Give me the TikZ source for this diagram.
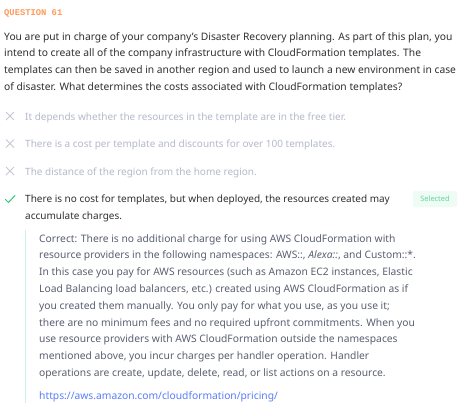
\documentclass[tikz,border=0pt]{standalone}
\usepackage{fontspec}
\setmainfont{Noto Sans}
\newfontfamily\qmono{Liberation Mono}
\definecolor{qorange}{HTML}{FF9A5A}
\definecolor{qtext}{HTML}{2E3033}
\definecolor{qwrong}{HTML}{B4BACB}
\definecolor{qxicon}{HTML}{C3C8D4}
\definecolor{qgreen}{HTML}{34C77B}
\definecolor{qbadgebg}{HTML}{EEFCF5}
\definecolor{qbadgetx}{HTML}{5CD69A}
\definecolor{qexpl}{HTML}{5B6070}
\definecolor{qbar}{HTML}{C9F1E4}
\definecolor{qlink}{HTML}{5A7DF7}
\begin{document}
\begin{tikzpicture}[x=1pt,y=1pt,
  para/.style={anchor=base west,inner sep=0pt,align=left,font=\fontsize{10}{16.8}\selectfont},
  bigpara/.style={para,font=\fontsize{10.28}{16.8}\selectfont},
  wrongopt/.style={para,text=qwrong},
  xicon/.style={draw=qxicon,line width=0.9pt},
]
\useasboundingbox (0,0) rectangle (470,-415);
\fill[white] (0,0) rectangle (470,-415);
% header (base anchor = baseline of last line)
\node[anchor=base west,inner sep=0pt,text=qorange,font=\qmono\bfseries\fontsize{8.8}{10}\selectfont] (qh) at (4,-16) {QUESTION 61};
% question
\node[bigpara,text=qtext] (q) at (4,-90.4) {You are put in charge of your company's Disaster Recovery planning. As part of this plan, you\\intend to create all of the company infrastructure with CloudFormation templates. The\\templates can then be saved in another region and used to launch a new environment in case\\of disaster. What determines the costs associated with CloudFormation templates?};
% options
\node[wrongopt] (o1) at (25,-120) {It depends whether the resources in the template are in the free tier.};
\node[wrongopt] (o2) at (25,-147.5) {There is a cost per template and discounts for over 100 templates.};
\node[wrongopt] (o3) at (25,-175) {The distance of the region from the home region.};
\node[para,text=qtext] (o4) at (25,-219.5) {There is no cost for templates, but when deployed, the resources created may\\accumulate charges.};
\foreach \yy/\nm in {116/x1,143.5/x2,171/x3}{
  \coordinate (\nm a) at (6,-\yy+4);
  \coordinate (\nm b) at (14,-\yy-4);
  \coordinate (\nm c) at (6,-\yy-4);
  \coordinate (\nm d) at (14,-\yy+4);
  \draw[xicon] (\nm a) -- (\nm b);
  \draw[xicon] (\nm c) -- (\nm d);
}
\coordinate (ca) at (5.5,-199.5);
\coordinate (cb) at (8.5,-202.5);
\coordinate (cc) at (15,-195.5);
\draw[qgreen,line width=1pt,line cap=round,line join=round] (ca) -- (cb) -- (cc);
% badge
\node[fill=qbadgebg,rounded corners=2pt,minimum width=44pt,minimum height=16pt,inner sep=0pt,text=qbadgetx,font=\fontsize{7.4}{8}\selectfont] (badge) at (435,-199) {Selected};
% explanation bar
\coordinate (bt) at (25.5,-230);
\coordinate (bb) at (25.5,-403);
\draw[qbar,line width=1.5pt] (bt) -- (bb);
\node[bigpara,text=qexpl] (ex) at (39,-376.4) {Correct: There is no additional charge for using AWS CloudFormation with\\resource providers in the following namespaces: AWS::, \textit{Alexa::}, and Custom::*.\\In this case you pay for AWS resources (such as Amazon EC2 instances, Elastic\\Load Balancing load balancers, etc.) created using AWS CloudFormation as if\\you created them manually. You only pay for what you use, as you use it;\\there are no minimum fees and no required upfront commitments. When you\\use resource providers with AWS CloudFormation outside the namespaces\\mentioned above, you incur charges per handler operation. Handler\\operations are create, update, delete, read, or list actions on a resource.};
\node[bigpara,text=qlink] (url) at (39,-399) {https://aws.amazon.com/cloudformation/pricing/};
\end{tikzpicture}
\end{document}
